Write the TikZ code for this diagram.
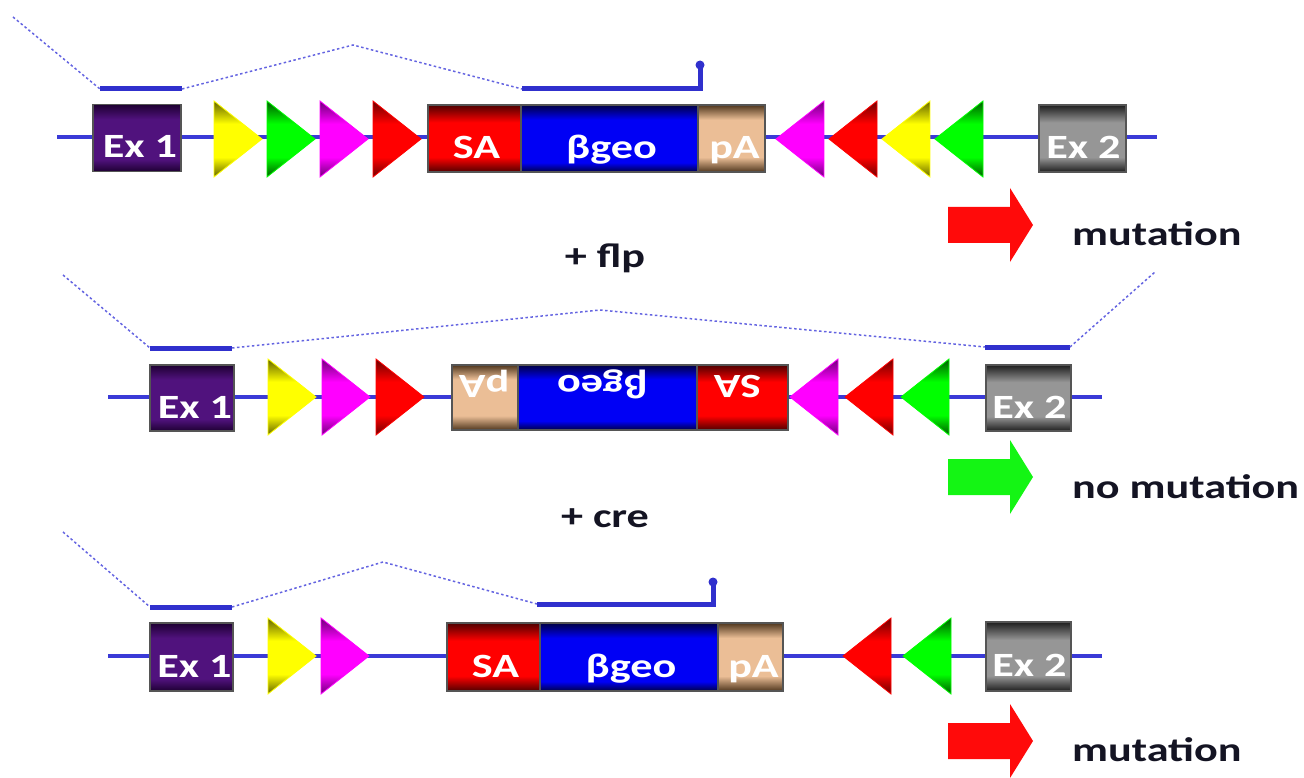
\documentclass[tikz,border=0pt]{standalone}
\usepackage{graphicx}
\usepackage{fontspec}
\setmainfont{Carlito}
\usetikzlibrary{calc}
\definecolor{bb}{RGB}{58,58,215}
\definecolor{exl}{RGB}{48,48,205}
\definecolor{spl}{RGB}{100,100,225}
\definecolor{edge}{RGB}{85,85,85}
\definecolor{puM}{RGB}{80,18,125}
\definecolor{puD}{RGB}{30,0,50}
\definecolor{grM}{RGB}{150,150,150}
\definecolor{grD}{RGB}{30,30,30}
\definecolor{saM}{RGB}{255,0,0}
\definecolor{saD}{RGB}{80,0,0}
\definecolor{bgM}{RGB}{0,0,245}
\definecolor{bgD}{RGB}{0,0,70}
\definecolor{paM}{RGB}{235,190,150}
\definecolor{paD}{RGB}{80,55,30}
\definecolor{yeM}{RGB}{255,255,0}
\definecolor{yeD}{RGB}{100,100,0}
\definecolor{gnM}{RGB}{0,255,0}
\definecolor{gnD}{RGB}{0,90,0}
\definecolor{mgM}{RGB}{255,0,255}
\definecolor{mgD}{RGB}{110,0,120}
\definecolor{rdM}{RGB}{255,0,0}
\definecolor{rdD}{RGB}{110,0,0}
\definecolor{txt}{RGB}{20,20,35}
\definecolor{arrR}{RGB}{255,10,10}
\definecolor{arrG}{RGB}{20,245,20}
% shading: path maps onto 25bp..75bp
\newcommand{\MkVShade}[5]{\pgfdeclareverticalshading{#1}{100bp}{color(0bp)=(#2); color(25bp)=(#2); color(#4)=(#3); color(#5)=(#3); color(75bp)=(#2); color(100bp)=(#2)}}
\MkVShade{shPu}{puD}{puM}{34bp}{64bp}
\MkVShade{shGr}{grD}{grM}{36bp}{62bp}
\MkVShade{shSa}{saD}{saM}{36bp}{62bp}
\MkVShade{shBg}{bgD}{bgM}{32bp}{64bp}
\MkVShade{shPa}{paD}{paM}{36bp}{64bp}
\MkVShade{shye}{yeD}{yeM}{38bp}{60bp}
\MkVShade{shgn}{gnD}{gnM}{38bp}{60bp}
\MkVShade{shmg}{mgD}{mgM}{38bp}{60bp}
\MkVShade{shrd}{rdD}{rdM}{38bp}{60bp}
\newcommand{\Wd}[1]{\scalebox{1.3}[1]{#1}}
% right-pointing triangle: base x, centre y, colour prefix
\newcommand{\TriR}[3]{\shade[shading=sh#3, draw=#3M, line width=0.8pt] (#1,{#2-38}) -- ({#1+48},#2) -- (#1,{#2+38}) -- cycle;}
% left-pointing triangle: tip x, centre y, colour prefix
\newcommand{\TriL}[3]{\shade[shading=sh#3, draw=#3M, line width=0.8pt] (#1,#2) -- ({#1+48},{#2-38}) -- ({#1+48},{#2+38}) -- cycle;}
% block arrow: left x, centre y, colour
\newcommand{\BigArr}[3]{\fill[#3] (#1,{#2-18}) -- ({#1+62},{#2-18}) -- ({#1+62},{#2-37}) -- ({#1+85},#2) -- ({#1+62},{#2+37}) -- ({#1+62},{#2+18}) -- (#1,{#2+18}) -- cycle;}
\begin{document}
\begin{tikzpicture}[x=1pt,y=-1pt,
  backbone/.style={draw=bb, line width=4.5pt},
  exonline/.style={draw=exl, line width=5pt},
  spliceline/.style={draw=spl, line width=1.5pt, dash pattern=on 2.5pt off 2.5pt},
  gbox/.style={rectangle, draw=edge, line width=1.2pt, inner sep=0pt, minimum height=67pt},
  ex1sh/.style={shading=shPu},
  ex2sh/.style={shading=shGr},
  sash/.style={shading=shSa},
  bgsh/.style={shading=shBg},
  pash/.style={shading=shPa},
  btxt/.style={text=white, font=\fontsize{34}{34}\selectfont\bfseries, inner sep=0pt, anchor=base},
  lbl/.style={text=txt, font=\fontsize{34}{34}\selectfont\bfseries, inner sep=0pt}]
\useasboundingbox (0,0) rectangle (1304,778);

% ---------------- Row 1 ----------------
\coordinate (b1s) at (57,137);
\coordinate (b1e) at (1157,137);
\draw[backbone] (b1s) -- (b1e);
\node[gbox, minimum width=88pt, ex1sh] (ex1a) at (137,138) {};
\node[gbox, minimum width=93pt, sash] (sa1) at (474.5,138.5) {};
\node[gbox, minimum width=177pt, bgsh] (bg1) at (609.5,138.5) {};
\node[gbox, minimum width=67pt, pash] (pa1) at (731.5,138.5) {};
\node[gbox, minimum width=87pt, ex2sh] (ex2a) at (1082.5,138.5) {};
\node[btxt] (ex1at) at ($(ex1a.center)+(3,20)$) {\Wd{Ex 1}};
\node[btxt] (sa1t) at ($(sa1.center)+(2,20)$) {\Wd{SA}};
\node[btxt] (bg1t) at ($(bg1.center)+(2,20)$) {\Wd{βgeo}};
\node[btxt] (pa1t) at ($(pa1.center)+(3,20)$) {\Wd{pA}};
\node[btxt] (ex2at) at ($(ex2a.center)+(1,20)$) {\Wd{Ex 2}};
\TriR{214}{139}{ye}
\TriR{267}{139}{gn}
\TriR{320}{139}{mg}
\TriR{373}{139}{rd}
\TriL{776}{139}{mg}
\TriL{829}{139}{rd}
\TriL{882}{139}{ye}
\TriL{935}{139}{gn}
% splicing
\coordinate (s1a) at (13,17);
\coordinate (s1b) at (100,89);
\coordinate (s1c) at (182,89);
\coordinate (s1d) at (353,45);
\coordinate (s1e) at (522,89);
\coordinate (s1f) at (700,89);
\coordinate (s1g) at (700,65);
\draw[spliceline] (s1a) -- (s1b);
\draw[exonline] (s1b) -- (s1c);
\draw[spliceline] (s1c) -- (s1d) -- (s1e);
\draw[exonline, line join=miter] (s1e) -- (s1f) -- (s1g);
\fill[exl] (s1g) circle (4.5pt);
\BigArr{948}{225}{arrR}
\node[lbl, anchor=west] (mut1) at (1072,234) {\Wd{mutation}};
\node[lbl] (flp) at (605,258) {\Wd{+ flp}};

% ---------------- Row 2 ----------------
\coordinate (b2s) at (108,397);
\coordinate (b2e) at (1102,397);
\draw[backbone] (b2s) -- (b2e);
\node[gbox, minimum width=84pt, minimum height=66pt, ex1sh] (ex1b) at (192,398) {};
\node[gbox, minimum width=66pt, minimum height=65pt, pash] (pa2) at (485,397.5) {};
\node[gbox, minimum width=179pt, minimum height=65pt, bgsh] (bg2) at (607.5,397.5) {};
\node[gbox, minimum width=91pt, minimum height=65pt, sash] (sa2) at (742.5,397.5) {};
\node[gbox, minimum width=85pt, minimum height=66pt, ex2sh] (ex2b) at (1028.5,398) {};
\node[btxt] (ex1bt) at ($(ex1b.center)+(3,20)$) {\Wd{Ex 1}};
\node[btxt, rotate=180] (pa2t) at ($(pa2.center)+(-1,-22)$) {\Wd{pA}};
\node[btxt, rotate=180] (bg2t) at ($(bg2.center)+(-5,-22)$) {\Wd{βgeo}};
\node[btxt, rotate=180] (sa2t) at ($(sa2.center)+(-5,-22)$) {\Wd{SA}};
\node[btxt] (ex2bt) at ($(ex2b.center)+(1,20)$) {\Wd{Ex 2}};
\TriR{268}{397}{ye}
\TriR{322}{397}{mg}
\TriR{376}{397}{rd}
\TriL{790}{397}{mg}
\TriL{845}{397}{rd}
\TriL{901}{397}{gn}
\coordinate (s2a) at (63,275);
\coordinate (s2b) at (150,348);
\coordinate (s2c) at (232,348);
\coordinate (s2d) at (600,310);
\coordinate (s2e) at (985,347);
\coordinate (s2f) at (1070,347);
\coordinate (s2g) at (1155,272);
\draw[spliceline] (s2a) -- (s2b);
\draw[exonline] (s2b) -- (s2c);
\draw[spliceline] (s2c) -- (s2d) -- (s2e);
\draw[exonline] (s2e) -- (s2f);
\draw[spliceline] (s2f) -- (s2g);
\BigArr{948}{477}{arrG}
\node[lbl, anchor=west] (mut2) at (1072,487) {\Wd{no mutation}};
\node[lbl] (cre) at (605,518) {\Wd{+ cre}};

% ---------------- Row 3 ----------------
\coordinate (b3s) at (108,656);
\coordinate (b3e) at (1102,656);
\draw[backbone] (b3s) -- (b3e);
\node[gbox, minimum width=83pt, minimum height=68pt, ex1sh] (ex1c) at (191.5,657) {};
\node[gbox, minimum width=93pt, minimum height=68pt, sash] (sa3) at (493.5,657) {};
\node[gbox, minimum width=178pt, minimum height=68pt, bgsh] (bg3) at (629,657) {};
\node[gbox, minimum width=65pt, minimum height=68pt, pash] (pa3) at (750.5,657) {};
\node[gbox, minimum width=85pt, minimum height=69pt, ex2sh] (ex2c) at (1028.5,656.5) {};
\node[btxt] (ex1ct) at ($(ex1c.center)+(3,20)$) {\Wd{Ex 1}};
\node[btxt] (sa3t) at ($(sa3.center)+(2,20)$) {\Wd{SA}};
\node[btxt] (bg3t) at ($(bg3.center)+(2,20)$) {\Wd{βgeo}};
\node[btxt] (pa3t) at ($(pa3.center)+(3,20)$) {\Wd{pA}};
\node[btxt] (ex2ct) at ($(ex2c.center)+(1,20)$) {\Wd{Ex 2}};
\TriR{268}{656}{ye}
\TriR{321}{656}{mg}
\TriL{843}{656}{rd}
\TriL{903}{656}{gn}
\coordinate (s3a) at (63,532);
\coordinate (s3b) at (150,607);
\coordinate (s3c) at (232,607);
\coordinate (s3d) at (383,562);
\coordinate (s3e) at (537,604);
\coordinate (s3f) at (713,604);
\coordinate (s3g) at (713,582);
\draw[spliceline] (s3a) -- (s3b);
\draw[exonline] (s3b) -- (s3c);
\draw[spliceline] (s3c) -- (s3d) -- (s3e);
\draw[exonline, line join=miter] (s3e) -- (s3f) -- (s3g);
\fill[exl] (s3g) circle (4.5pt);
\BigArr{948}{741}{arrR}
\node[lbl, anchor=west] (mut3) at (1072,750) {\Wd{mutation}};
\end{tikzpicture}
\end{document}
